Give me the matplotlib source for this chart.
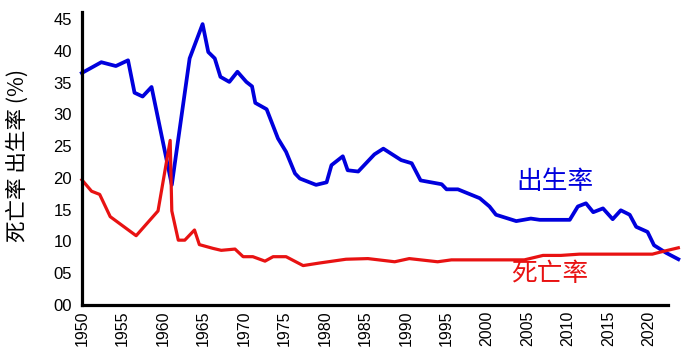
import matplotlib
matplotlib.use("Agg")
import matplotlib.pyplot as plt

# =====================================
# Data
# =====================================

birth_years = [1950.0, 1952.4, 1954.2, 1955.7, 1956.5, 1957.5, 1958.6, 1961.1,
               1963.3, 1964.9, 1965.6, 1966.4, 1967.1, 1968.2, 1969.2, 1970.3,
               1971.0, 1971.4, 1972.8, 1974.2, 1975.2, 1976.3, 1976.9, 1978.9,
               1980.2, 1980.8, 1982.2, 1982.8, 1984.1, 1986.1, 1987.2, 1989.4,
               1990.7, 1991.8, 1994.4, 1995.0, 1996.4, 1999.1, 2000.3, 2001.1,
               2003.6, 2005.4, 2006.5, 2010.2, 2011.2, 2012.2, 2013.1, 2014.3,
               2015.5, 2016.5, 2017.6, 2018.4, 2019.8, 2020.6, 2022.1, 2023.6]
birth_rate = [36.5, 38.2, 37.6, 38.5, 33.4, 32.8, 34.3, 18.9,
              38.8, 44.2, 39.8, 38.8, 35.9, 35.1, 36.7, 35.1,
              34.4, 31.8, 30.8, 26.2, 24.1, 20.7, 19.9, 18.9,
              19.3, 22.0, 23.4, 21.2, 21.0, 23.7, 24.6, 22.8,
              22.3, 19.6, 19.0, 18.2, 18.2, 16.8, 15.5, 14.2,
              13.2, 13.6, 13.4, 13.4, 15.5, 16.0, 14.6, 15.2,
              13.5, 14.9, 14.2, 12.3, 11.5, 9.4, 8.2, 7.2]

death_years = [1950.0, 1951.2, 1952.2, 1953.5, 1956.7, 1959.4, 1960.9, 1961.1,
               1961.9, 1962.7, 1963.9, 1964.5, 1966.2, 1967.2, 1968.9, 1969.9,
               1971.1, 1972.6, 1973.6, 1975.2, 1977.3, 1979.3, 1982.6, 1985.3,
               1988.6, 1990.4, 1993.9, 1995.6, 2004.6, 2006.9, 2009.1, 2011.4,
               2020.4, 2021.3, 2023.6]
death_rate = [19.7, 17.9, 17.4, 13.9, 10.9, 14.8, 25.9, 14.8,
              10.2, 10.2, 11.8, 9.5, 8.9, 8.6, 8.8, 7.6,
              7.6, 6.9, 7.6, 7.6, 6.2, 6.6, 7.2, 7.3,
              6.8, 7.3, 6.8, 7.1, 7.1, 7.8, 7.8, 8.0,
              8.0, 8.3, 9.0]

x_ticks = list(range(1950, 2021, 5))
y_ticks = list(range(0, 46, 5))

# =====================================
# Plot
# =====================================

plt.rcParams["font.family"] = ["Liberation Sans", "Noto Sans CJK SC", "DejaVu Sans"]
cjk = ["Noto Sans CJK SC", "DejaVu Sans"]

blue = "#0000dd"
red = "#e81212"

fig = plt.figure(figsize=(6.82, 3.5), dpi=100)
ax = fig.add_axes([0.120, 0.1286, 0.877, 0.8371])

ax.plot(birth_years, birth_rate, color=blue, linewidth=2.7, clip_on=False)
ax.plot(death_years, death_rate, color=red, linewidth=2.3, clip_on=False)

ax.set_xlim(1950, 2023.8)
ax.set_ylim(0, 46.1)

ax.set_xticks(x_ticks)
ax.set_xticklabels([str(y) for y in x_ticks], rotation=90, fontsize=11.5)
ax.set_yticks(y_ticks)
ax.set_yticklabels(["%02d" % v for v in y_ticks], fontsize=12)
ax.tick_params(length=0)
ax.tick_params(axis="x", pad=4)
ax.tick_params(axis="y", pad=7)

for side in ["top", "right"]:
    ax.spines[side].set_visible(False)
for side in ["left", "bottom"]:
    ax.spines[side].set_linewidth(2.3)
ax.spines["bottom"].set_bounds(1950, 2022.3)

ax.set_ylabel("死亡率 出生率 (%)", fontsize=15.5, family=cjk)
ax.yaxis.set_label_coords(-0.088, 0.51)

ax.text(2008.4, 19.3, "出生率", color=blue, fontsize=18.5, family=cjk,
        ha="center", va="center")
ax.text(2007.7, 4.8, "死亡率", color=red, fontsize=18.5, family=cjk,
        ha="center", va="center")

fig.savefig("out.png", dpi=100)
